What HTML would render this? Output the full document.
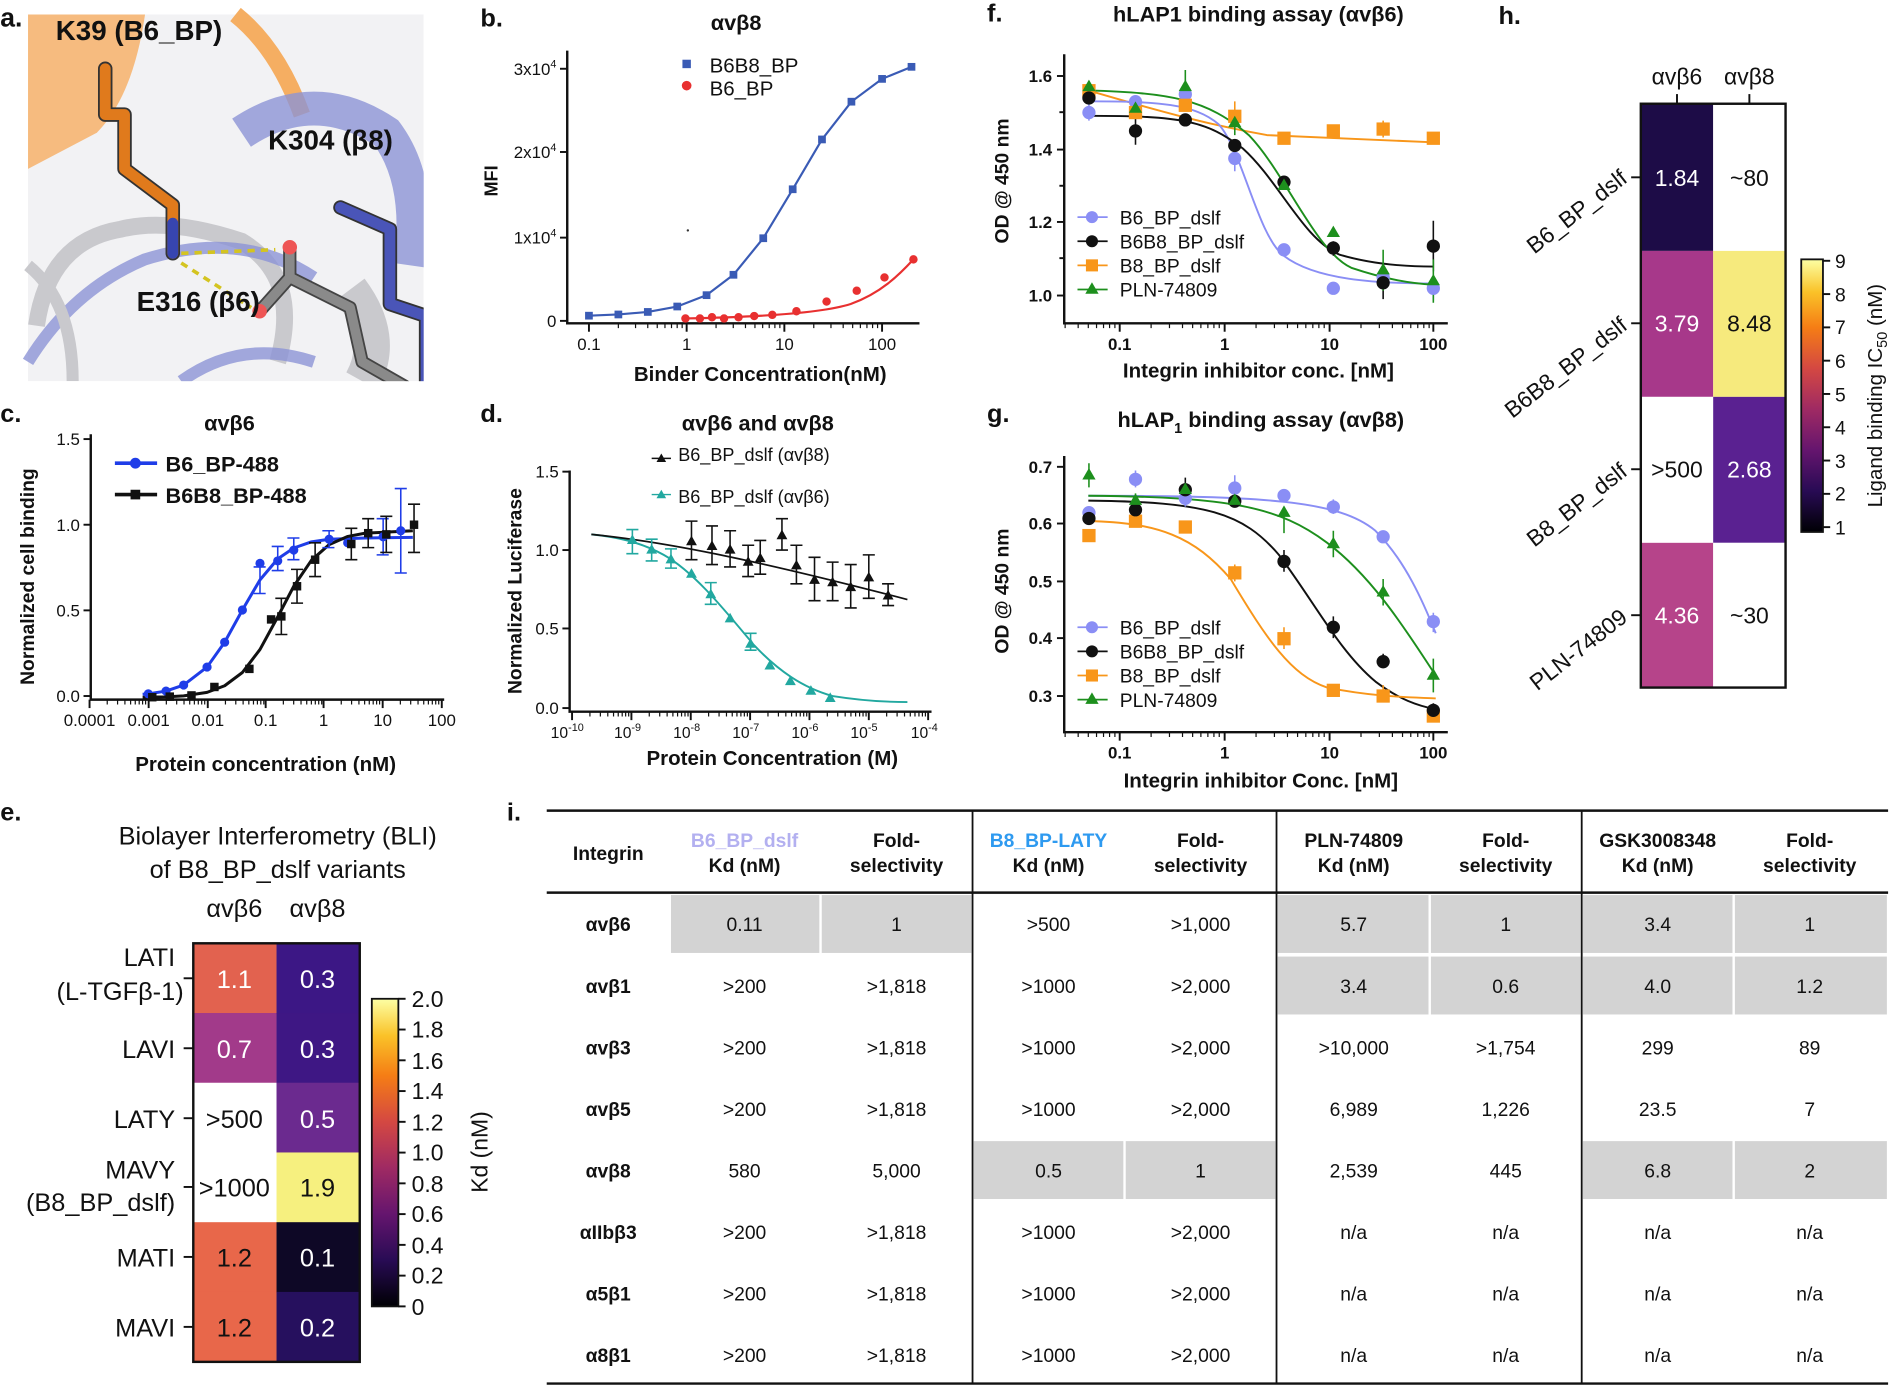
<!DOCTYPE html>
<html><head><meta charset="utf-8"><style>
html,body{margin:0;padding:0;background:#fff}
svg{display:block}
text{font-family:"Liberation Sans",sans-serif;fill:#111}
.b{font-weight:bold}
.w{fill:#fff}
.t14{font-size:14px}
.ax{stroke:#111;stroke-width:2;fill:none}
.tk{stroke:#111;stroke-width:1.6}
</style></head><body>
<svg width="1892" height="1386" viewBox="0 0 1568 1149" xmlns="http://www.w3.org/2000/svg">
<defs>
<linearGradient id="inf" x1="0" y1="1" x2="0" y2="0">
<stop offset="0" stop-color="#000004"/><stop offset=".15" stop-color="#280b54"/><stop offset=".3" stop-color="#65156e"/><stop offset=".45" stop-color="#9f2a63"/><stop offset=".6" stop-color="#d44842"/><stop offset=".75" stop-color="#f57d15"/><stop offset=".88" stop-color="#fac228"/><stop offset="1" stop-color="#fcffa4"/>
</linearGradient>
<g id="mt"><path d="M30.1 0v4M47.7 0v4M60.2 0v4M69.9 0v4M77.8 0v4M84.5 0v4M90.3 0v4M95.4 0v4" stroke="#111" stroke-width="1.2" vector-effect="non-scaling-stroke"/></g>
</defs>
<rect width="1568" height="1149" fill="#fff"/>
<!-- panel a -->
<g>
<rect x="23" y="12" width="328" height="304" fill="#f2f2f4"/>
<path d="M23 12 H120 Q110 80 80 110 L23 140 Z" fill="#f7b26a" opacity=".85"/>
<path d="M195 12 Q230 40 250 95" stroke="#f5ae62" stroke-width="14" fill="none"/>
<path d="M30 270 Q40 200 100 190 Q140 180 200 200 Q250 230 230 300" stroke="#c9c9cd" stroke-width="14" fill="none"/>
<path d="M23 300 Q60 240 120 215 Q200 190 260 230" stroke="#8c93d6" stroke-width="10" fill="none" opacity=".8"/>
<path d="M200 110 Q260 70 320 110 Q350 150 340 220" stroke="#8c93d6" stroke-width="28" fill="none" opacity=".8"/>
<path d="M290 240 Q320 280 300 316" stroke="#c9c9cd" stroke-width="30" fill="none"/>
<path d="M150 316 Q200 280 260 300" stroke="#8c93d6" stroke-width="10" fill="none" opacity=".8"/>
<path d="M23 220 Q60 250 60 316" stroke="#c9c9cd" stroke-width="10" fill="none"/>
<polyline points="87,57 87,95 103,95 103,140 143,170 143,210" stroke="#333" stroke-width="12" fill="none" stroke-linejoin="round" stroke-linecap="round"/>
<polyline points="87,57 87,95 103,95 103,140 143,170 143,210" stroke="#e07a1c" stroke-width="9" fill="none" stroke-linejoin="round" stroke-linecap="round"/>
<line x1="143" y1="185" x2="143" y2="210" stroke="#3745b0" stroke-width="9" stroke-linecap="round"/>
<polyline points="282,172 323,190 323,252 353,262 353,320" stroke="#333" stroke-width="12" fill="none" stroke-linejoin="round" stroke-linecap="round"/>
<polyline points="282,172 323,190 323,252 353,262 353,320" stroke="#4a55b8" stroke-width="9" fill="none" stroke-linejoin="round" stroke-linecap="round"/>
<polyline points="240,205 240,230 215,258" stroke="#444" stroke-width="11" fill="none" stroke-linejoin="round" stroke-linecap="round"/>
<polyline points="240,230 290,255 300,300 335,320" stroke="#444" stroke-width="11" fill="none" stroke-linejoin="round" stroke-linecap="round"/>
<polyline points="240,205 240,230 215,258" stroke="#8a8a8a" stroke-width="8" fill="none" stroke-linejoin="round" stroke-linecap="round"/>
<polyline points="240,230 290,255 300,300 335,320" stroke="#8a8a8a" stroke-width="8" fill="none" stroke-linejoin="round" stroke-linecap="round"/>
<circle cx="240" cy="205" r="6" fill="#e55"/><circle cx="215" cy="258" r="6" fill="#e55"/>
<line x1="150" y1="210" x2="228" y2="207" stroke="#d4c420" stroke-width="3" stroke-dasharray="6,5"/>
<line x1="150" y1="218" x2="208" y2="255" stroke="#d4c420" stroke-width="3" stroke-dasharray="6,5"/>
<rect x="351" y="0" width="20" height="330" fill="#fff"/>
<rect x="0" y="316" width="380" height="20" fill="#fff"/>
<text x="0" y="22" class="b" font-size="22">a.</text>
<text x="46" y="33" class="b" font-size="23">K39 (B6_BP)</text>
<text x="222" y="124" class="b" font-size="23">K304 (β8)</text>
<text x="113" y="258" class="b" font-size="23">E316 (β6)</text>
</g>

<!-- panel labels -->
<text x="398" y="22" class="b" font-size="21">b.</text>
<text x="0" y="350" class="b" font-size="21">c.</text>
<text x="398" y="350" class="b" font-size="21">d.</text>
<text x="818" y="18" class="b" font-size="21">f.</text>
<text x="818" y="350" class="b" font-size="21">g.</text>
<text x="1242" y="20" class="b" font-size="21">h.</text>
<text x="0" y="680" class="b" font-size="21">e.</text>
<text x="420" y="680" class="b" font-size="21">i.</text>
<!-- titles -->
<text x="610" y="25" class="b" font-size="18" text-anchor="middle">αvβ8</text>
<text x="190" y="357" class="b" font-size="18" text-anchor="middle">αvβ6</text>
<text x="628" y="357" class="b" font-size="18" text-anchor="middle">αvβ6 and αvβ8</text>
<text x="1043" y="18" class="b" font-size="18" text-anchor="middle">hLAP1 binding assay (αvβ6)</text>
<text x="1045" y="354" class="b" font-size="18" text-anchor="middle">hLAP<tspan font-size="12" dy="5">1</tspan><tspan dy="-5"> binding assay (αvβ8)</tspan></text>
<!-- axis titles -->
<text x="630" y="316" class="b" font-size="17" text-anchor="middle">Binder Concentration(nM)</text>
<text x="220" y="639" class="b" font-size="17" text-anchor="middle">Protein concentration (nM)</text>
<text x="640" y="634" class="b" font-size="17" text-anchor="middle">Protein Concentration (M)</text>
<text x="1043" y="313" class="b" font-size="17" text-anchor="middle">Integrin inhibitor conc. [nM]</text>
<text x="1045" y="653" class="b" font-size="17" text-anchor="middle">Integrin inhibitor Conc. [nM]</text>
<text transform="translate(412,150) rotate(-90)" class="b" font-size="15" text-anchor="middle">MFI</text>
<text transform="translate(28,478) rotate(-90)" class="b" font-size="16" text-anchor="middle">Normalized cell binding</text>
<text transform="translate(432,490) rotate(-90)" class="b" font-size="16" text-anchor="middle">Normalized Luciferase</text>
<text transform="translate(836,150) rotate(-90)" class="b" font-size="16" text-anchor="middle">OD @ 450 nm</text>
<text transform="translate(836,490) rotate(-90)" class="b" font-size="16" text-anchor="middle">OD @ 450 nm</text>

<!-- ===== panel b ===== -->
<g>
<path class="ax" d="M470 42V268H762"/>
<g class="tk"><line x1="488" y1="268" x2="488" y2="275"/><line x1="569" y1="268" x2="569" y2="275"/><line x1="650" y1="268" x2="650" y2="275"/><line x1="731" y1="268" x2="731" y2="275"/>
<line x1="464" y1="266" x2="470" y2="266"/><line x1="464" y1="197" x2="470" y2="197"/><line x1="464" y1="126" x2="470" y2="126"/><line x1="464" y1="57" x2="470" y2="57"/></g>
<use href="#mt" transform="translate(488,268) scale(0.81,1)"/><use href="#mt" transform="translate(569,268) scale(0.81,1)"/><use href="#mt" transform="translate(650,268) scale(0.81,1)"/>
<g class="t14" text-anchor="middle"><text x="488" y="290">0.1</text><text x="569" y="290">1</text><text x="650" y="290">10</text><text x="731" y="290">100</text></g>
<g class="t14" text-anchor="end"><text x="461" y="271">0</text><text x="461" y="202">1x10<tspan font-size="9" dy="-6">4</tspan></text><text x="461" y="131">2x10<tspan font-size="9" dy="-6">4</tspan></text><text x="461" y="62">3x10<tspan font-size="9" dy="-6">4</tspan></text></g>
<path d="M488 261.7 L512.4 260.7 L536.8 258.6 L561.2 254.1 L585.5 244.7 L607.8 227.8 L632.5 197.5 L656.9 156.9 L681.2 115.6 L705.6 84.3 L731 65.4 L755.4 55.4" stroke="#3a5bb5" stroke-width="1.8" fill="none" stroke-linejoin="round"/>
<g fill="#3a5bb5"><rect x="484.8" y="258.5" width="6.4" height="6.4"/><rect x="509.2" y="257.5" width="6.4" height="6.4"/><rect x="533.6" y="255.4" width="6.4" height="6.4"/><rect x="558" y="250.9" width="6.4" height="6.4"/><rect x="582.3" y="241.5" width="6.4" height="6.4"/><rect x="604.6" y="224.6" width="6.4" height="6.4"/><rect x="629.3" y="194.3" width="6.4" height="6.4"/><rect x="653.7" y="153.7" width="6.4" height="6.4"/><rect x="678" y="112.4" width="6.4" height="6.4"/><rect x="702.4" y="81.1" width="6.4" height="6.4"/><rect x="727.8" y="62.2" width="6.4" height="6.4"/><rect x="752.2" y="52.2" width="6.4" height="6.4"/></g>
<path d="M568 264 C620 263 680 260 705 252 C730 243 745 228 757 215" stroke="#e83030" stroke-width="1.8" fill="none"/>
<g fill="#e83030"><circle cx="568" cy="264" r="3.5"/><circle cx="580" cy="264" r="3.5"/><circle cx="590" cy="263" r="3.5"/><circle cx="600" cy="264" r="3.5"/><circle cx="612" cy="263" r="3.5"/><circle cx="625" cy="262" r="3.5"/><circle cx="640" cy="261" r="3.5"/><circle cx="660" cy="258" r="3.5"/><circle cx="685" cy="250" r="3.5"/><circle cx="710" cy="241" r="3.5"/><circle cx="733" cy="230" r="3.5"/><circle cx="757" cy="215" r="3.5"/></g>
<circle cx="570" cy="191" r="1" fill="#333"/>
<rect x="565.5" y="49.5" width="7" height="7" fill="#3a5bb5"/><text x="588" y="60" font-size="17">B6B8_BP</text>
<circle cx="569" cy="71" r="4" fill="#e83030"/><text x="588" y="79" font-size="17">B6_BP</text>
</g>

<!-- ===== panel c ===== -->
<g>
<path class="ax" d="M75 360V580H368"/>
<g class="tk"><line x1="74" y1="580" x2="74" y2="587"/><line x1="123" y1="580" x2="123" y2="587"/><line x1="172" y1="580" x2="172" y2="587"/><line x1="220" y1="580" x2="220" y2="587"/><line x1="268" y1="580" x2="268" y2="587"/><line x1="317" y1="580" x2="317" y2="587"/><line x1="366" y1="580" x2="366" y2="587"/>
<line x1="69" y1="577" x2="75" y2="577"/><line x1="69" y1="506" x2="75" y2="506"/><line x1="69" y1="435" x2="75" y2="435"/><line x1="69" y1="364" x2="75" y2="364"/></g>
<use href="#mt" transform="translate(74,580) scale(0.487,1)"/><use href="#mt" transform="translate(123,580) scale(0.487,1)"/><use href="#mt" transform="translate(172,580) scale(0.487,1)"/><use href="#mt" transform="translate(220,580) scale(0.487,1)"/><use href="#mt" transform="translate(268,580) scale(0.487,1)"/><use href="#mt" transform="translate(317,580) scale(0.487,1)"/>
<g class="t14" text-anchor="middle"><text x="74" y="602">0.0001</text><text x="123" y="602">0.001</text><text x="172" y="602">0.01</text><text x="220" y="602">0.1</text><text x="268" y="602">1</text><text x="317" y="602">10</text><text x="366" y="602">100</text></g>
<g class="t14" text-anchor="end"><text x="66" y="582">0.0</text><text x="66" y="511">0.5</text><text x="66" y="440">1.0</text><text x="66" y="369">1.5</text></g>
<path d="M118 575.5 L122.7 575.2 L137.4 572.9 L152 567.9 L171.4 553 L186 532.4 L200.7 505.7 L215.3 480.7 L230 463.3 L243.3 454.3 L258 449.2 L272.6 447 L302.7 446 L342 445.5" stroke="#1f3de8" stroke-width="2.5" fill="none" stroke-linejoin="round"/>
<path d="M118 578 L137.4 577.7 L152 576.9 L171.4 574 L186 568.5 L200.7 557.5 L215.3 538.4 L230 511.4 L243.3 486 L258 464.4 L272.6 451.5 L288.1 444.7 L302.7 442 L342 440" stroke="#111" stroke-width="2.5" fill="none" stroke-linejoin="round"/>
<g stroke="#1f3de8" stroke-width="1.3" fill="none"><path d="M215.3 470v22M210 470h10M210 492h10"/><path d="M230 453v20M225 453h10M225 473h10"/><path d="M243.3 446v18M238 446h10M238 464h10"/><path d="M272.6 440v14M267 440h10M267 454h10"/><path d="M317.4 430v30M312 430h10M312 460h10"/><path d="M332 405v70M327 405h10M327 475h10"/></g>
<g stroke="#111" stroke-width="1.3" fill="none"><path d="M233 496v30M228 496h10M228 526h10"/><path d="M246 472v28M241 472h10M241 500h10"/><path d="M261 450v28M256 450h10M256 478h10"/><path d="M291 438v26M286 438h10M286 464h10"/><path d="M305 430v24M300 430h10M300 454h10"/><path d="M320 428v30M315 428h10M315 458h10"/><path d="M343 418v40M338 418h10M338 458h10"/></g>
<g fill="#1f3de8"><circle cx="122.7" cy="575.2" r="3.8"/><circle cx="137.4" cy="572.9" r="3.8"/><circle cx="152" cy="567.9" r="3.8"/><circle cx="171.4" cy="553" r="3.8"/><circle cx="186" cy="532.4" r="3.8"/><circle cx="200.7" cy="505.7" r="3.8"/><circle cx="215.3" cy="467" r="3.8"/><circle cx="230" cy="465" r="3.8"/><circle cx="243.3" cy="456" r="3.8"/><circle cx="272.6" cy="447" r="3.8"/><circle cx="288" cy="450" r="3.8"/><circle cx="317.4" cy="445" r="3.8"/><circle cx="332" cy="440" r="3.8"/></g>
<g fill="#111"><rect x="122.5" y="574.5" width="7" height="7"/><rect x="137" y="574" width="7" height="7"/><rect x="155" y="573" width="7" height="7"/><rect x="174" y="566" width="7" height="7"/><rect x="203" y="551" width="7" height="7"/><rect x="221" y="510" width="7" height="7"/><rect x="229.5" y="507.5" width="7" height="7"/><rect x="242.5" y="482.5" width="7" height="7"/><rect x="257.5" y="460.5" width="7" height="7"/><rect x="287.5" y="447.5" width="7" height="7"/><rect x="301.5" y="438.5" width="7" height="7"/><rect x="316.5" y="439.5" width="7" height="7"/><rect x="339.5" y="431.5" width="7" height="7"/></g>
<line x1="95" y1="384" x2="130" y2="384" stroke="#1f3de8" stroke-width="3"/><circle cx="112" cy="384" r="4.5" fill="#1f3de8"/><text x="137" y="391" font-size="18" class="b">B6_BP-488</text>
<line x1="95" y1="410" x2="130" y2="410" stroke="#111" stroke-width="3"/><rect x="108" y="406" width="8" height="8" fill="#111"/><text x="137" y="417" font-size="18" class="b">B6B8_BP-488</text>
</g>

<!-- ===== panel d ===== -->
<g>
<path class="ax" d="M472 390V590H772"/>
<g class="tk"><line x1="474" y1="590" x2="474" y2="597"/><line x1="523.2" y1="590" x2="523.2" y2="597"/><line x1="572.4" y1="590" x2="572.4" y2="597"/><line x1="621.6" y1="590" x2="621.6" y2="597"/><line x1="670.8" y1="590" x2="670.8" y2="597"/><line x1="720" y1="590" x2="720" y2="597"/><line x1="769.2" y1="590" x2="769.2" y2="597"/>
<line x1="466" y1="587" x2="472" y2="587"/><line x1="466" y1="521" x2="472" y2="521"/><line x1="466" y1="456" x2="472" y2="456"/><line x1="466" y1="391" x2="472" y2="391"/></g>
<use href="#mt" transform="translate(474,590) scale(0.492,1)"/><use href="#mt" transform="translate(523.2,590) scale(0.492,1)"/><use href="#mt" transform="translate(572.4,590) scale(0.492,1)"/><use href="#mt" transform="translate(621.6,590) scale(0.492,1)"/><use href="#mt" transform="translate(670.8,590) scale(0.492,1)"/><use href="#mt" transform="translate(720,590) scale(0.492,1)"/>
<g font-size="13" text-anchor="middle"><text x="470" y="612">10<tspan font-size="9" dy="-6">-10</tspan></text><text x="520" y="612">10<tspan font-size="9" dy="-6">-9</tspan></text><text x="569" y="612">10<tspan font-size="9" dy="-6">-8</tspan></text><text x="618" y="612">10<tspan font-size="9" dy="-6">-7</tspan></text><text x="667" y="612">10<tspan font-size="9" dy="-6">-6</tspan></text><text x="716" y="612">10<tspan font-size="9" dy="-6">-5</tspan></text><text x="766" y="612">10<tspan font-size="9" dy="-6">-4</tspan></text></g>
<g class="t14" text-anchor="end"><text x="463" y="592">0.0</text><text x="463" y="526">0.5</text><text x="463" y="461">1.0</text><text x="463" y="396">1.5</text></g>
<path d="M490 443 C510 445 530 449 550 460 C575 474 600 505 625 535 C645 556 665 570 690 577 C715 581 735 582 752 582" stroke="#22a8a0" stroke-width="1.6" fill="none"/>
<path d="M490 443 C560 450 640 468 752 497" stroke="#111" stroke-width="1.4" fill="none"/>
<g stroke="#22a8a0" stroke-width="1.3" fill="none"><path d="M524 439v20M519 439h10M519 459h10"/><path d="M540 447v18M535 447h10M535 465h10"/><path d="M556 455v16M551 455h10M551 471h10"/><path d="M589 483v18M584 483h10M584 501h10"/><path d="M622 525v14M617 525h10M617 539h10"/></g>
<g fill="#22a8a0"><path d="M524 443l4.5 8h-9z"/><path d="M540 451l4.5 8h-9z"/><path d="M556 459l4.5 8h-9z"/><path d="M573 471l4.5 8h-9z"/><path d="M589 488l4.5 8h-9z"/><path d="M605 508l4.5 8h-9z"/><path d="M622 529l4.5 8h-9z"/><path d="M638 547l4.5 8h-9z"/><path d="M655 560l4.5 8h-9z"/><path d="M672 568l4.5 8h-9z"/><path d="M688 574l4.5 8h-9z"/></g>
<g stroke="#111" stroke-width="1.3" fill="none"><path d="M573 432v32M568 432h10M568 464h10"/><path d="M590 436v32M585 436h10M585 468h10"/><path d="M605 440v30M600 440h10M600 470h10"/><path d="M620 452v26M615 452h10M615 478h10"/><path d="M630 448v28M625 448h10M625 476h10"/><path d="M648 430v26M643 430h10M643 456h10"/><path d="M660 452v32M655 452h10M655 484h10"/><path d="M675 462v36M670 462h10M670 498h10"/><path d="M690 466v32M685 466h10M685 498h10"/><path d="M705 468v36M700 468h10M700 504h10"/><path d="M720 460v36M715 460h10M715 496h10"/><path d="M736 484v18M731 484h10M731 502h10"/></g>
<g fill="#111"><path d="M573 444l4.5 8h-9z"/><path d="M590 448l4.5 8h-9z"/><path d="M605 451l4.5 8h-9z"/><path d="M620 461l4.5 8h-9z"/><path d="M630 458l4.5 8h-9z"/><path d="M648 439l4.5 8h-9z"/><path d="M660 464l4.5 8h-9z"/><path d="M675 476l4.5 8h-9z"/><path d="M690 478l4.5 8h-9z"/><path d="M705 482l4.5 8h-9z"/><path d="M720 474l4.5 8h-9z"/><path d="M736 489l4.5 8h-9z"/></g>
<line x1="540" y1="380" x2="556" y2="380" stroke="#111" stroke-width="1.2"/><path d="M548 376l4 7h-8z" fill="#111"/><text x="562" y="382" font-size="15">B6_BP_dslf (αvβ8)</text>
<line x1="540" y1="410" x2="556" y2="410" stroke="#22a8a0" stroke-width="1.2"/><path d="M548 406l4 7h-8z" fill="#22a8a0"/><text x="562" y="417" font-size="15">B6_BP_dslf (αvβ6)</text>
</g>

<!-- ===== panel f ===== -->
<g>
<path class="ax" d="M882 45V268H1200"/>
<g class="tk"><line x1="928" y1="268" x2="928" y2="275"/><line x1="1015" y1="268" x2="1015" y2="275"/><line x1="1102" y1="268" x2="1102" y2="275"/><line x1="1188" y1="268" x2="1188" y2="275"/>
<line x1="876" y1="63" x2="882" y2="63"/><line x1="876" y1="124" x2="882" y2="124"/><line x1="876" y1="184" x2="882" y2="184"/><line x1="876" y1="245" x2="882" y2="245"/>
<line x1="878" y1="93" x2="882" y2="93"/><line x1="878" y1="154" x2="882" y2="154"/><line x1="878" y1="214" x2="882" y2="214"/></g>
<use href="#mt" transform="translate(841.5,268) scale(0.865,1)"/><use href="#mt" transform="translate(928,268) scale(0.865,1)"/><use href="#mt" transform="translate(1015,268) scale(0.865,1)"/><use href="#mt" transform="translate(1102,268) scale(0.865,1)"/>
<rect x="800" y="262" width="81" height="14" fill="#fff"/>
<g class="t14 b" text-anchor="middle"><text x="928" y="290">0.1</text><text x="1015" y="290">1</text><text x="1102" y="290">10</text><text x="1188" y="290">100</text></g>
<g class="t14 b" text-anchor="end"><text x="872" y="68">1.6</text><text x="872" y="129">1.4</text><text x="872" y="189">1.2</text><text x="872" y="250">1.0</text></g>
<path d="M902 75 C960 92 1000 103 1050 112 L1188 118" stroke="#f8961a" stroke-width="1.6" fill="none"/>
<path d="M902 84 C960 84 990 86 1010 103 C1030 125 1042 195 1064 212 C1090 232 1140 235 1188 235" stroke="#8a8ef5" stroke-width="1.6" fill="none"/>
<path d="M902 96 C980 96 1000 100 1030 123 C1060 150 1080 198 1110 211 C1140 220 1170 221 1188 221" stroke="#111" stroke-width="1.6" fill="none"/>
<path d="M902 75 C970 77 1000 82 1035 112 C1065 143 1090 208 1120 222 C1150 232 1170 235 1188 236" stroke="#1d8f1d" stroke-width="1.6" fill="none"/>
<g stroke-width="1.3" fill="none">
<path stroke="#8a8ef5" d="M902.5 86v14M982.4 66v24M1023.4 122v20M1064.2 203v8M1146.4 220v20M1188 229v20"/>
<path stroke="#111" d="M941.1 96v24M1105.1 200v12M1146.4 220v28M1188 183v42M1064.2 147v8"/>
<path stroke="#1d8f1d" d="M982.4 58v28M1023.4 92v20M1146.4 207v34M1188 215v36"/>
<path stroke="#f8961a" d="M1146.4 100v14M1023.4 84v20"/>
</g>
<g fill="#8a8ef5"><circle cx="902.5" cy="93.3" r="5.5"/><circle cx="941.1" cy="84.3" r="5.5"/><circle cx="982.4" cy="78.2" r="5.5"/><circle cx="1023.4" cy="131.3" r="5.5"/><circle cx="1064.2" cy="207.1" r="5.5"/><circle cx="1105.1" cy="239" r="5.5"/><circle cx="1146.4" cy="229.8" r="5.5"/><circle cx="1188" cy="239" r="5.5"/></g>
<g fill="#f8961a"><rect x="897" y="69.7" width="11" height="11"/><rect x="935.6" y="87.8" width="11" height="11"/><rect x="976.9" y="81.8" width="11" height="11"/><rect x="1017.9" y="90.9" width="11" height="11"/><rect x="1058.7" y="109.1" width="11" height="11"/><rect x="1099.6" y="103" width="11" height="11"/><rect x="1140.9" y="101.5" width="11" height="11"/><rect x="1182.5" y="109.1" width="11" height="11"/></g>
<g fill="#111"><circle cx="902.5" cy="81.2" r="5.5"/><circle cx="941.1" cy="108.5" r="5.5"/><circle cx="982.4" cy="99.4" r="5.5"/><circle cx="1023.4" cy="120.6" r="5.5"/><circle cx="1064.2" cy="151" r="5.5"/><circle cx="1105.1" cy="205.6" r="5.5"/><circle cx="1146.4" cy="234.4" r="5.5"/><circle cx="1188" cy="204" r="5.5"/></g>
<g fill="#1d8f1d"><path d="M902.5 66l5.5 9.5h-11z"/><path d="M941.1 84l5.5 9.5h-11z"/><path d="M982.4 66l5.5 9.5h-11z"/><path d="M1023.4 96l5.5 9.5h-11z"/><path d="M1064.2 148l5.5 9.5h-11z"/><path d="M1105.1 187l5.5 9.5h-11z"/><path d="M1146.4 218l5.5 9.5h-11z"/><path d="M1188 227l5.5 9.5h-11z"/></g>
<line x1="893" y1="180" x2="918" y2="180" stroke="#8a8ef5" stroke-width="1.5"/><circle cx="905" cy="180" r="5" fill="#8a8ef5"/><text x="928" y="186" font-size="16">B6_BP_dslf</text>
<line x1="893" y1="200" x2="918" y2="200" stroke="#111" stroke-width="1.5"/><circle cx="905" cy="200" r="5" fill="#111"/><text x="928" y="206" font-size="16">B6B8_BP_dslf</text>
<line x1="893" y1="220" x2="918" y2="220" stroke="#f8961a" stroke-width="1.5"/><rect x="900" y="215" width="10" height="10" fill="#f8961a"/><text x="928" y="226" font-size="16">B8_BP_dslf</text>
<line x1="893" y1="240" x2="918" y2="240" stroke="#1d8f1d" stroke-width="1.5"/><path d="M905 234l5.5 9.5h-11z" fill="#1d8f1d"/><text x="928" y="246" font-size="16">PLN-74809</text>
</g>

<!-- ===== panel g ===== -->
<g>
<path class="ax" d="M882 378V607H1200"/>
<g class="tk"><line x1="928" y1="607" x2="928" y2="614"/><line x1="1015" y1="607" x2="1015" y2="614"/><line x1="1102" y1="607" x2="1102" y2="614"/><line x1="1188" y1="607" x2="1188" y2="614"/>
<line x1="876" y1="387" x2="882" y2="387"/><line x1="876" y1="434" x2="882" y2="434"/><line x1="876" y1="482" x2="882" y2="482"/><line x1="876" y1="529" x2="882" y2="529"/><line x1="876" y1="577" x2="882" y2="577"/></g>
<use href="#mt" transform="translate(841.5,607) scale(0.865,1)"/><use href="#mt" transform="translate(928,607) scale(0.865,1)"/><use href="#mt" transform="translate(1015,607) scale(0.865,1)"/><use href="#mt" transform="translate(1102,607) scale(0.865,1)"/>
<rect x="800" y="601" width="81" height="14" fill="#fff"/>
<g class="t14 b" text-anchor="middle"><text x="928" y="629">0.1</text><text x="1015" y="629">1</text><text x="1102" y="629">10</text><text x="1188" y="629">100</text></g>
<g class="t14 b" text-anchor="end"><text x="872" y="392">0.7</text><text x="872" y="439">0.6</text><text x="872" y="487">0.5</text><text x="872" y="534">0.4</text><text x="872" y="582">0.3</text></g>
<path d="M902 411 C1050 411 1110 415 1140 440 C1165 465 1180 500 1190 525" stroke="#8a8ef5" stroke-width="1.6" fill="none"/>
<path d="M902 415 C1000 416 1030 425 1060 460 C1090 500 1110 540 1140 565 C1160 580 1175 585 1190 588" stroke="#111" stroke-width="1.6" fill="none"/>
<path d="M902 432 C960 433 990 445 1020 480 C1050 530 1070 560 1100 570 C1140 578 1170 578 1190 579" stroke="#f8961a" stroke-width="1.6" fill="none"/>
<path d="M902 411 C1020 412 1060 420 1100 450 C1140 480 1170 530 1190 560" stroke="#1d8f1d" stroke-width="1.6" fill="none"/>
<g stroke-width="1.3" fill="none">
<path stroke="#8a8ef5" d="M941.1 390v14M982.4 406v14M1023.4 394v20M1105.1 414v12M1188 508v16"/>
<path stroke="#111" d="M941.1 414v18M982.4 396v20M1064.2 456v18M1105.1 511v18M1146.4 542v12M1188 583v12"/>
<path stroke="#f8961a" d="M941.1 427v10M1023.4 468v14M1064.2 520v18M1146.4 568v10"/>
<path stroke="#1d8f1d" d="M902.5 384v20M941.1 409v12M1064.2 426v16M1105.1 440v22M1146.4 480v22M1188 546v28"/>
</g>
<g fill="#8a8ef5"><circle cx="902.5" cy="425" r="5.5"/><circle cx="941.1" cy="397.4" r="5.5"/><circle cx="982.4" cy="413.1" r="5.5"/><circle cx="1023.4" cy="404.6" r="5.5"/><circle cx="1064.2" cy="410.8" r="5.5"/><circle cx="1105.1" cy="420.3" r="5.5"/><circle cx="1146.4" cy="445" r="5.5"/><circle cx="1188" cy="515.3" r="5.5"/></g>
<g fill="#f8961a"><rect x="897" y="438.5" width="11" height="11"/><rect x="935.6" y="426.6" width="11" height="11"/><rect x="976.9" y="431.4" width="11" height="11"/><rect x="1017.9" y="469.4" width="11" height="11"/><rect x="1058.7" y="524" width="11" height="11"/><rect x="1099.6" y="566.8" width="11" height="11"/><rect x="1140.9" y="571.5" width="11" height="11"/><rect x="1182.5" y="588.1" width="11" height="11"/></g>
<g fill="#111"><circle cx="902.5" cy="429.8" r="5.5"/><circle cx="941.1" cy="422.6" r="5.5"/><circle cx="982.4" cy="406" r="5.5"/><circle cx="1023.4" cy="415.5" r="5.5"/><circle cx="1064.2" cy="465.4" r="5.5"/><circle cx="1105.1" cy="520" r="5.5"/><circle cx="1146.4" cy="548.5" r="5.5"/><circle cx="1188" cy="588.9" r="5.5"/></g>
<g fill="#1d8f1d"><path d="M902.5 388l5.5 9.5h-11z"/><path d="M941.1 409l5.5 9.5h-11z"/><path d="M982.4 400l5.5 9.5h-11z"/><path d="M1023.4 409l5.5 9.5h-11z"/><path d="M1064.2 419l5.5 9.5h-11z"/><path d="M1105.1 445l5.5 9.5h-11z"/><path d="M1146.4 485l5.5 9.5h-11z"/><path d="M1188 554l5.5 9.5h-11z"/></g>
<line x1="893" y1="520" x2="918" y2="520" stroke="#8a8ef5" stroke-width="1.5"/><circle cx="905" cy="520" r="5" fill="#8a8ef5"/><text x="928" y="526" font-size="16">B6_BP_dslf</text>
<line x1="893" y1="540" x2="918" y2="540" stroke="#111" stroke-width="1.5"/><circle cx="905" cy="540" r="5" fill="#111"/><text x="928" y="546" font-size="16">B6B8_BP_dslf</text>
<line x1="893" y1="560" x2="918" y2="560" stroke="#f8961a" stroke-width="1.5"/><rect x="900" y="555" width="10" height="10" fill="#f8961a"/><text x="928" y="566" font-size="16">B8_BP_dslf</text>
<line x1="893" y1="580" x2="918" y2="580" stroke="#1d8f1d" stroke-width="1.5"/><path d="M905 574l5.5 9.5h-11z" fill="#1d8f1d"/><text x="928" y="586" font-size="16">PLN-74809</text>
</g>

<!-- ===== panel h ===== -->
<g font-size="19">
<text x="1390" y="70" text-anchor="middle">αvβ6</text><text x="1450" y="70" text-anchor="middle">αvβ8</text>
<rect x="1360" y="86" width="60" height="122" fill="#1d0c47"/><rect x="1420" y="86" width="60" height="122" fill="#fff"/>
<rect x="1360" y="208" width="60" height="121" fill="#a7388a"/><rect x="1420" y="208" width="60" height="121" fill="#f6ea7d"/>
<rect x="1360" y="329" width="60" height="121" fill="#fff"/><rect x="1420" y="329" width="60" height="121" fill="#5a2191"/>
<rect x="1360" y="450" width="60" height="120" fill="#b6448a"/><rect x="1420" y="450" width="60" height="120" fill="#fff"/>
<rect x="1360" y="86" width="120" height="484" fill="none" stroke="#111" stroke-width="2"/>
<text x="1390" y="154" text-anchor="middle" class="w">1.84</text><text x="1450" y="154" text-anchor="middle">~80</text>
<text x="1390" y="275" text-anchor="middle" class="w">3.79</text><text x="1450" y="275" text-anchor="middle">8.48</text>
<text x="1390" y="396" text-anchor="middle">&gt;500</text><text x="1450" y="396" text-anchor="middle" class="w">2.68</text>
<text x="1390" y="517" text-anchor="middle" class="w">4.36</text><text x="1450" y="517" text-anchor="middle">~30</text>
<g class="tk"><line x1="1390" y1="78" x2="1390" y2="86"/><line x1="1450" y1="78" x2="1450" y2="86"/>
<line x1="1352" y1="147" x2="1360" y2="147"/><line x1="1352" y1="268" x2="1360" y2="268"/><line x1="1352" y1="389" x2="1360" y2="389"/><line x1="1352" y1="510" x2="1360" y2="510"/></g>
<text transform="translate(1350,150) rotate(-38)" text-anchor="end">B6_BP_dslf</text>
<text transform="translate(1350,272) rotate(-38)" text-anchor="end">B6B8_BP_dslf</text>
<text transform="translate(1350,393) rotate(-38)" text-anchor="end">B8_BP_dslf</text>
<text transform="translate(1350,514) rotate(-38)" text-anchor="end">PLN-74809</text>
</g>
<rect x="1493" y="215" width="18" height="226" fill="url(#inf)" stroke="#111" stroke-width="1.5"/>
<g font-size="16" class="tk"><line x1="1511" y1="437" x2="1517" y2="437"/><line x1="1511" y1="409.4" x2="1517" y2="409.4"/><line x1="1511" y1="381.8" x2="1517" y2="381.8"/><line x1="1511" y1="354.2" x2="1517" y2="354.2"/><line x1="1511" y1="326.6" x2="1517" y2="326.6"/><line x1="1511" y1="299" x2="1517" y2="299"/><line x1="1511" y1="271.4" x2="1517" y2="271.4"/><line x1="1511" y1="243.8" x2="1517" y2="243.8"/><line x1="1511" y1="216.2" x2="1517" y2="216.2"/></g>
<g font-size="16"><text x="1521" y="443">1</text><text x="1521" y="415">2</text><text x="1521" y="388">3</text><text x="1521" y="360">4</text><text x="1521" y="333">5</text><text x="1521" y="305">6</text><text x="1521" y="277">7</text><text x="1521" y="250">8</text><text x="1521" y="222">9</text></g>
<text transform="translate(1560,328) rotate(-90)" font-size="17" text-anchor="middle">Ligand binding IC<tspan font-size="12" dy="4">50</tspan><tspan dy="-4"> (nM)</tspan></text>

<!-- ===== panel e ===== -->
<g font-size="21">
<text x="230" y="700" text-anchor="middle">Biolayer Interferometry (BLI)</text>
<text x="230" y="728" text-anchor="middle">of B8_BP_dslf variants</text>
<text x="194" y="760" text-anchor="middle">αvβ6</text><text x="263" y="760" text-anchor="middle">αvβ8</text>
<rect x="160" y="782" width="69" height="58.5" fill="#e2624f"/><rect x="229" y="782" width="69" height="58.5" fill="#3c1785"/>
<rect x="160" y="839.8" width="69" height="58.5" fill="#a23a8a"/><rect x="229" y="839.8" width="69" height="58.5" fill="#3e1784"/>
<rect x="160" y="897.6" width="69" height="58.5" fill="#fff"/><rect x="229" y="897.6" width="69" height="58.5" fill="#6b2a8f"/>
<rect x="160" y="955.4" width="69" height="58.5" fill="#fff"/><rect x="229" y="955.4" width="69" height="58.5" fill="#f6f07f"/>
<rect x="160" y="1013.2" width="69" height="58.5" fill="#e8674a"/><rect x="229" y="1013.2" width="69" height="58.5" fill="#0e0826"/>
<rect x="160" y="1071" width="69" height="58" fill="#e8674a"/><rect x="229" y="1071" width="69" height="58" fill="#26105e"/>
<text x="194" y="819" text-anchor="middle" class="w">1.1</text><text x="263" y="819" text-anchor="middle" class="w">0.3</text>
<text x="194" y="877" text-anchor="middle" class="w">0.7</text><text x="263" y="877" text-anchor="middle" class="w">0.3</text>
<text x="194" y="935" text-anchor="middle">&gt;500</text><text x="263" y="935" text-anchor="middle" class="w">0.5</text>
<text x="194" y="992" text-anchor="middle">&gt;1000</text><text x="263" y="992" text-anchor="middle">1.9</text>
<text x="194" y="1050" text-anchor="middle">1.2</text><text x="263" y="1050" text-anchor="middle" class="w">0.1</text>
<text x="194" y="1108" text-anchor="middle">1.2</text><text x="263" y="1108" text-anchor="middle" class="w">0.2</text>
<rect x="160" y="782" width="138" height="347" fill="none" stroke="#111" stroke-width="2"/>
<g class="tk"><line x1="152" y1="811" x2="160" y2="811"/><line x1="152" y1="869" x2="160" y2="869"/><line x1="152" y1="927" x2="160" y2="927"/><line x1="152" y1="984" x2="160" y2="984"/><line x1="152" y1="1042" x2="160" y2="1042"/><line x1="152" y1="1100" x2="160" y2="1100"/></g>
<text x="145" y="801" text-anchor="end">LATI</text>
<text x="152" y="829" text-anchor="end">(L-TGFβ-1)</text>
<text x="145" y="877" text-anchor="end">LAVI</text>
<text x="145" y="935" text-anchor="end">LATY</text>
<text x="145" y="977" text-anchor="end">MAVY</text>
<text x="145" y="1004" text-anchor="end">(B8_BP_dslf)</text>
<text x="145" y="1050" text-anchor="end">MATI</text>
<text x="145" y="1108" text-anchor="end">MAVI</text>
</g>
<rect x="308" y="828" width="22" height="255" fill="url(#inf)" stroke="#111" stroke-width="1.5"/>
<g class="tk"><line x1="330" y1="1083" x2="336" y2="1083"/><line x1="330" y1="1057.5" x2="336" y2="1057.5"/><line x1="330" y1="1032" x2="336" y2="1032"/><line x1="330" y1="1006.5" x2="336" y2="1006.5"/><line x1="330" y1="981" x2="336" y2="981"/><line x1="330" y1="955.5" x2="336" y2="955.5"/><line x1="330" y1="930" x2="336" y2="930"/><line x1="330" y1="904.5" x2="336" y2="904.5"/><line x1="330" y1="879" x2="336" y2="879"/><line x1="330" y1="853.5" x2="336" y2="853.5"/><line x1="330" y1="828" x2="336" y2="828"/></g>
<g font-size="19"><text x="341" y="1090">0</text><text x="341" y="1064">0.2</text><text x="341" y="1039">0.4</text><text x="341" y="1013">0.6</text><text x="341" y="988">0.8</text><text x="341" y="962">1.0</text><text x="341" y="937">1.2</text><text x="341" y="911">1.4</text><text x="341" y="886">1.6</text><text x="341" y="860">1.8</text><text x="341" y="835">2.0</text></g>
<text transform="translate(404,955) rotate(-90)" font-size="19" text-anchor="middle">Kd (nM)</text>

<!-- ===== panel i table ===== -->
<g>
<g fill="#d3d3d3">
<rect x="556" y="742" width="123" height="48"/><rect x="681" y="742" width="124" height="48"/><rect x="1059" y="742" width="125" height="48"/><rect x="1186" y="742" width="124" height="48"/><rect x="1312" y="742" width="124" height="48"/><rect x="1438" y="742" width="126" height="48"/>
<rect x="1059" y="793" width="125" height="48"/><rect x="1186" y="793" width="124" height="48"/><rect x="1312" y="793" width="124" height="48"/><rect x="1438" y="793" width="126" height="48"/>
<rect x="807" y="946" width="124" height="48"/><rect x="933" y="946" width="124" height="48"/><rect x="1312" y="946" width="124" height="48"/><rect x="1438" y="946" width="126" height="48"/>
</g>
<g stroke="#111" stroke-width="2"><line x1="453" y1="672" x2="1565" y2="672"/><line x1="453" y1="740" x2="1565" y2="740"/><line x1="453" y1="1147" x2="1565" y2="1147"/></g>
<g stroke="#111" stroke-width="1.5"><line x1="806" y1="672" x2="806" y2="1147"/><line x1="1058" y1="672" x2="1058" y2="1147"/><line x1="1311" y1="672" x2="1311" y2="1147"/></g>
<g font-size="16" class="b" text-anchor="middle">
<text x="504" y="713">Integrin</text>
<text x="617" y="702" style="fill:#b3b0f0">B6_BP_dslf</text><text x="617" y="723">Kd (nM)</text>
<text x="743" y="702">Fold-</text><text x="743" y="723">selectivity</text>
<text x="869" y="702" style="fill:#2e9af0">B8_BP-LATY</text><text x="869" y="723">Kd (nM)</text>
<text x="995" y="702">Fold-</text><text x="995" y="723">selectivity</text>
<text x="1122" y="702">PLN-74809</text><text x="1122" y="723">Kd (nM)</text>
<text x="1248" y="702">Fold-</text><text x="1248" y="723">selectivity</text>
<text x="1374" y="702">GSK3008348</text><text x="1374" y="723">Kd (nM)</text>
<text x="1500" y="702">Fold-</text><text x="1500" y="723">selectivity</text>
<text x="504" y="772">αvβ6</text><text x="504" y="823">αvβ1</text><text x="504" y="874">αvβ3</text><text x="504" y="925">αvβ5</text><text x="504" y="976">αvβ8</text><text x="504" y="1027">αIIbβ3</text><text x="504" y="1078">α5β1</text><text x="504" y="1129">α8β1</text>
</g>
<g font-size="16" text-anchor="middle">
<text x="617" y="772">0.11</text><text x="743" y="772">1</text><text x="869" y="772">&gt;500</text><text x="995" y="772">&gt;1,000</text><text x="1122" y="772">5.7</text><text x="1248" y="772">1</text><text x="1374" y="772">3.4</text><text x="1500" y="772">1</text>
<text x="617" y="823">&gt;200</text><text x="743" y="823">&gt;1,818</text><text x="869" y="823">&gt;1000</text><text x="995" y="823">&gt;2,000</text><text x="1122" y="823">3.4</text><text x="1248" y="823">0.6</text><text x="1374" y="823">4.0</text><text x="1500" y="823">1.2</text>
<text x="617" y="874">&gt;200</text><text x="743" y="874">&gt;1,818</text><text x="869" y="874">&gt;1000</text><text x="995" y="874">&gt;2,000</text><text x="1122" y="874">&gt;10,000</text><text x="1248" y="874">&gt;1,754</text><text x="1374" y="874">299</text><text x="1500" y="874">89</text>
<text x="617" y="925">&gt;200</text><text x="743" y="925">&gt;1,818</text><text x="869" y="925">&gt;1000</text><text x="995" y="925">&gt;2,000</text><text x="1122" y="925">6,989</text><text x="1248" y="925">1,226</text><text x="1374" y="925">23.5</text><text x="1500" y="925">7</text>
<text x="617" y="976">580</text><text x="743" y="976">5,000</text><text x="869" y="976">0.5</text><text x="995" y="976">1</text><text x="1122" y="976">2,539</text><text x="1248" y="976">445</text><text x="1374" y="976">6.8</text><text x="1500" y="976">2</text>
<text x="617" y="1027">&gt;200</text><text x="743" y="1027">&gt;1,818</text><text x="869" y="1027">&gt;1000</text><text x="995" y="1027">&gt;2,000</text><text x="1122" y="1027">n/a</text><text x="1248" y="1027">n/a</text><text x="1374" y="1027">n/a</text><text x="1500" y="1027">n/a</text>
<text x="617" y="1078">&gt;200</text><text x="743" y="1078">&gt;1,818</text><text x="869" y="1078">&gt;1000</text><text x="995" y="1078">&gt;2,000</text><text x="1122" y="1078">n/a</text><text x="1248" y="1078">n/a</text><text x="1374" y="1078">n/a</text><text x="1500" y="1078">n/a</text>
<text x="617" y="1129">&gt;200</text><text x="743" y="1129">&gt;1,818</text><text x="869" y="1129">&gt;1000</text><text x="995" y="1129">&gt;2,000</text><text x="1122" y="1129">n/a</text><text x="1248" y="1129">n/a</text><text x="1374" y="1129">n/a</text><text x="1500" y="1129">n/a</text>
</g>
</g>
</svg>
</body></html>
